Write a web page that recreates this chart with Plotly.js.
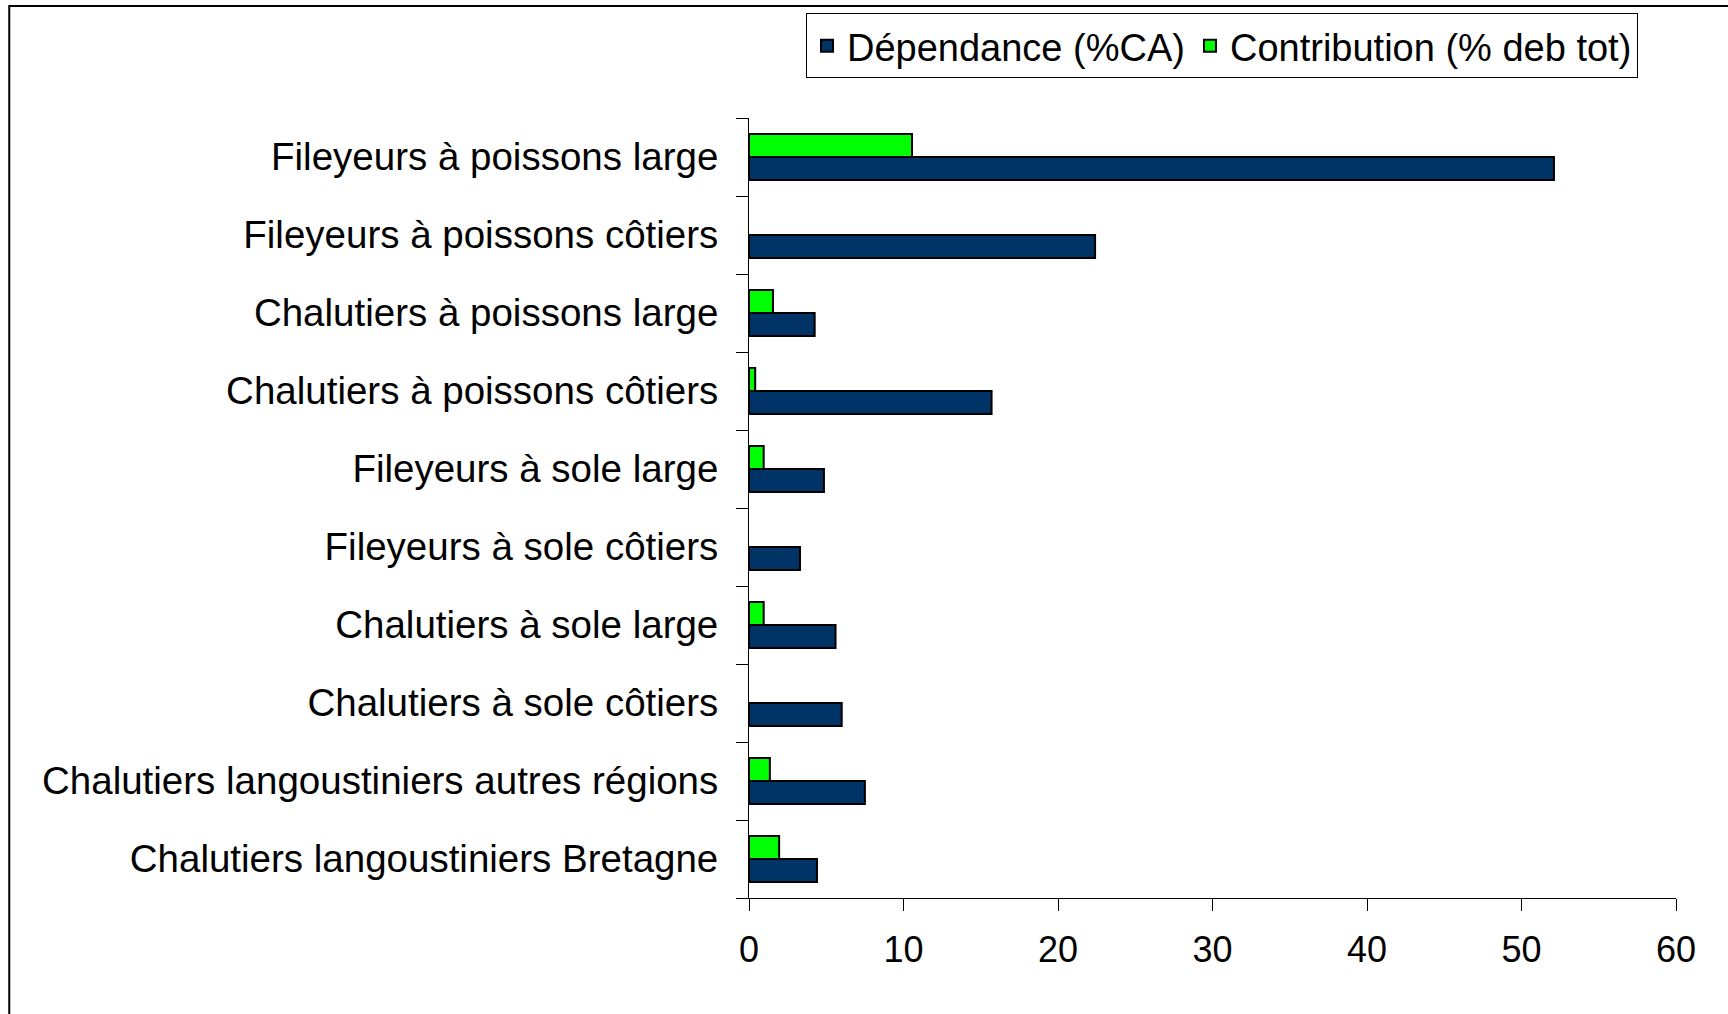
<!DOCTYPE html>
<html>
<head>
<meta charset="utf-8">
<script src="https://cdn.plot.ly/plotly-3.0.1.min.js"></script>
<style>
  html, body { margin: 0; padding: 0; background: #fff; }
  #chart { width: 1728px; height: 1014px; }
</style>
</head>
<body>
<div id="chart"></div>
<script>
// categories listed bottom to top (plotly draws the first one at the bottom)
var categories = [
    'Chalutiers langoustiniers Bretagne',
    'Chalutiers langoustiniers autres régions',
    'Chalutiers à sole côtiers',
    'Chalutiers à sole large',
    'Fileyeurs à sole côtiers',
    'Fileyeurs à sole large',
    'Chalutiers à poissons côtiers',
    'Chalutiers à poissons large',
    'Fileyeurs à poissons côtiers',
    'Fileyeurs à poissons large'
];
var dependance = [4.4, 7.5, 6.0, 5.6, 3.3, 4.85, 15.7, 4.25, 22.4, 52.1];
// null = no bar drawn for that fleet
var contribution = [1.95, 1.35, null, 0.95, null, 0.95, 0.4, 1.55, null, 10.55];
var xTicks = [0, 10, 20, 30, 40, 50, 60];

function hbarChart(div_id) {
    var data = [
        {
            y: categories,
            x: dependance,
            name: 'Dépendance (%CA)',
            type: 'bar',
            orientation: 'h',
            marker: {color: '#003366', line: {color: '#000000', width: 2}}
        },
        {
            y: categories,
            x: contribution,
            name: 'Contribution (% deb tot)',
            type: 'bar',
            orientation: 'h',
            marker: {color: '#00ff00', line: {color: '#000000', width: 2}}
        }
    ];

    var layout = {
        width: 1728,
        height: 1014,
        margin: {l: 749, r: 52, t: 118, b: 116},
        paper_bgcolor: '#ffffff',
        plot_bgcolor: '#ffffff',
        font: {family: 'Liberation Sans, Arial, sans-serif', color: '#000000'},
        barmode: 'group',
        bargap: 0.41,
        bargroupgap: 0,
        showlegend: true,
        legend: {
            orientation: 'h',
            x: 0.959, xanchor: 'right',
            y: 1.134, yanchor: 'top',
            bordercolor: '#000000',
            borderwidth: 1,
            font: {size: 38},
            traceorder: 'normal'
        },
        xaxis: {
            range: [0, 60],
            tickvals: xTicks,
            showgrid: false,
            zeroline: false,
            showline: true,
            linecolor: '#000000',
            linewidth: 1,
            ticks: 'outside',
            ticklen: 12,
            tickcolor: '#000000',
            ticklabelstandoff: 8,
            tickfont: {size: 36}
        },
        yaxis: {
            type: 'category',
            showgrid: false,
            showline: true,
            linecolor: '#000000',
            linewidth: 1,
            ticks: 'outside',
            tickson: 'boundaries',
            ticklen: 12,
            tickcolor: '#000000',
            ticklabelstandoff: 22,
            tickfont: {size: 38.5}
        },
        shapes: [{
            type: 'rect',
            xref: 'paper', yref: 'paper',
            x0: -0.798, x1: 1.06,
            y0: -0.16, y1: 1.1436,
            line: {color: '#000000', width: 2}
        }]
    };

    return Plotly.newPlot(div_id, data, layout, {displayModeBar: false, staticPlot: true});
}

hbarChart('chart');
</script>
</body>
</html>
